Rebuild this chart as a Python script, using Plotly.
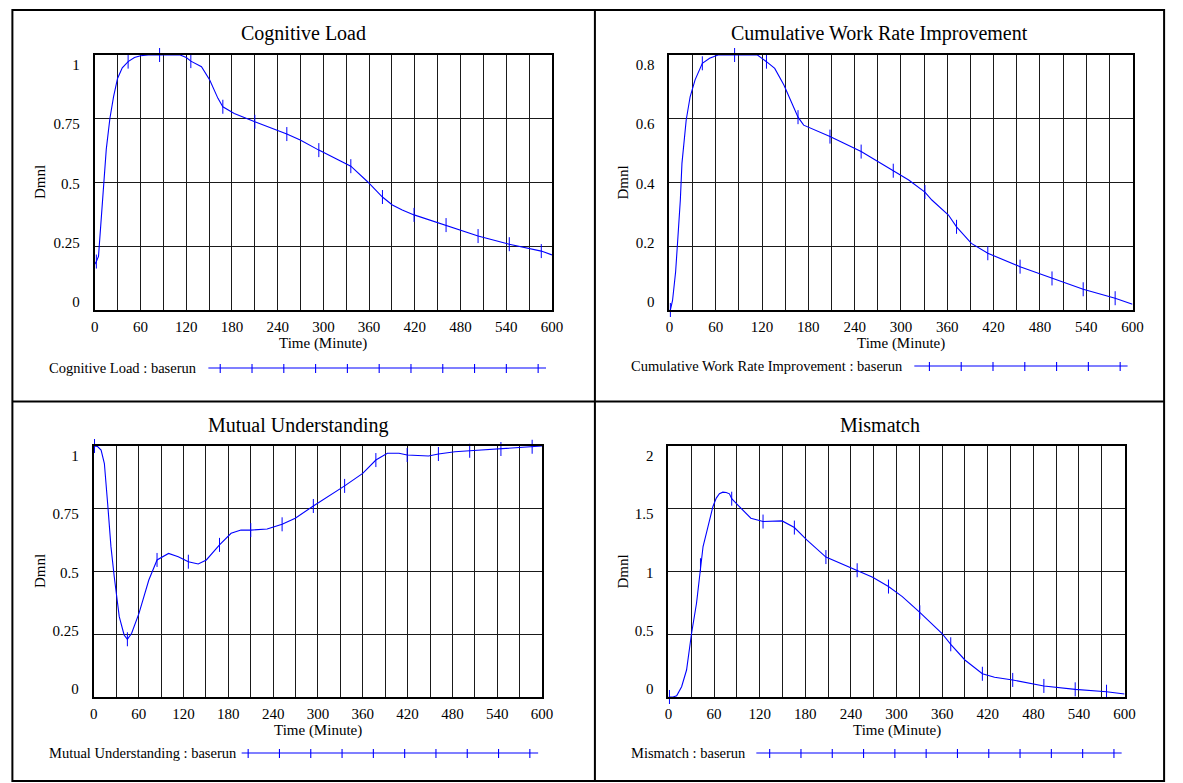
import plotly.graph_objects as go

W, H = 1183, 783
FONT = "Liberation Serif, Times New Roman, serif"
BLUE = "#0000ff"

# ---------------- data ----------------
cl_t = [0, 2, 4.8, 7, 10.4, 15, 19.8, 24.6, 29.8, 36, 43.7, 52, 60, 70, 85, 112, 120, 126,
        140, 150.8, 161.6, 168, 183, 210, 252, 269.6, 294, 336, 358, 377.5, 390.5, 403.5,
        419, 461, 503, 544, 586, 600]
cl_v = [0.18, 0.19, 0.21, 0.30, 0.46, 0.63, 0.752, 0.837, 0.908, 0.95, 0.974, 0.99, 0.997,
        1.0, 1.0, 1.0, 0.99, 0.976, 0.954, 0.902, 0.83, 0.797, 0.771, 0.738, 0.69, 0.667,
        0.627, 0.564, 0.503, 0.443, 0.412, 0.392, 0.373, 0.333, 0.29, 0.258, 0.231, 0.216]
cl_marks = [2, 43.7, 85, 126, 168, 210, 252, 294, 336, 377.5, 419, 461, 503, 544, 586]

cw_t = [0, 1.2, 4, 8, 11, 14.1, 16.2, 21.7, 26.8, 33.2, 42.6, 52, 63, 84.4, 114, 125.7,
        136.4, 148.3, 159, 166.6, 173.9, 208, 248.4, 274, 290, 310, 331, 340, 361.5, 372,
        391.2, 412.5, 454.3, 495.7, 536.1, 577.5, 600]
cw_v = [0.0, 0.0, 0.03, 0.12, 0.23, 0.345, 0.46, 0.596, 0.669, 0.722, 0.774, 0.79, 0.8,
        0.8, 0.8, 0.779, 0.758, 0.706, 0.648, 0.605, 0.58, 0.544, 0.497, 0.46, 0.437, 0.408,
        0.37, 0.345, 0.298, 0.261, 0.209, 0.178, 0.136, 0.099, 0.065, 0.037, 0.018]
cw_marks = [1.2, 42.6, 84.4, 125.7, 166.6, 208, 248.4, 290, 331, 372, 412.5, 454.3, 495.7,
            536.1, 577.5]

mu_t = [0, 0.9, 5, 9.7, 14.1, 18.5, 22.9, 27.3, 34, 40.5, 44.9, 50.6, 60.4, 73.6, 84.6, 100,
        113, 126.5, 139.7, 150.6, 168.2, 183.7, 196.9, 210, 232, 252, 269.6, 293.8, 335.7,
        359.9, 377.5, 392.9, 408.4, 419.4, 448, 461.2, 483.3, 503.1, 536, 544.9, 571.3,
        586.7, 600]
mu_v = [1.0, 1.0, 0.998, 0.984, 0.93, 0.77, 0.599, 0.479, 0.32, 0.247, 0.23, 0.254, 0.333,
        0.466, 0.546, 0.572, 0.559, 0.539, 0.53, 0.546, 0.606, 0.652, 0.665, 0.665, 0.669,
        0.688, 0.712, 0.761, 0.841, 0.891, 0.944, 0.971, 0.971, 0.964, 0.96, 0.968, 0.977,
        0.981, 0.987, 0.988, 0.993, 0.997, 1.0]
mu_marks = [0.9, 44.9, 84.6, 126.5, 168.2, 210, 252, 293.8, 335.7, 377.5, 419.4, 461.2,
            503.1, 544.9, 586.7]

mm_t = [0, 1.3, 6, 10.8, 17.3, 23.8, 30.4, 36.9, 42.1, 45.5, 52, 58.5, 62.9, 67, 71.5, 76,
        80.2, 83.2, 91, 108.4, 124.4, 149.5, 165.6, 181.9, 207.1, 225.3, 248.2, 268.6, 289.4,
        307.6, 330.6, 359.6, 371.3, 389.9, 412.9, 428.9, 452.8, 493.8, 535, 576.2, 600]
mm_v = [0.0, 0.0, 0.0, 0.01, 0.082, 0.215, 0.508, 0.747, 1.05, 1.199, 1.358, 1.518, 1.585,
        1.62, 1.632, 1.63, 1.619, 1.58, 1.531, 1.425, 1.398, 1.403, 1.35, 1.252, 1.115, 1.066,
        1.01, 0.954, 0.88, 0.8, 0.675, 0.508, 0.42, 0.295, 0.185, 0.157, 0.136, 0.088, 0.061,
        0.042, 0.024]
mm_marks = [1.3, 42.1, 83.2, 124.4, 165.6, 207.1, 248.2, 289.4, 330.6, 371.3, 412.9, 452.8,
            493.8, 535, 576.2]

x_ticks = [0, 60, 120, 180, 240, 300, 360, 420, 480, 540, 600]

panels = [
    dict(title="Cognitive Load", t=cl_t, v=cl_v, marks=cl_marks, ymax=1.0,
         ylabels=["0", "0.25", "0.5", "0.75", "1"], legend="Cognitive Load : baserun"),
    dict(title="Cumulative Work Rate Improvement", t=cw_t, v=cw_v, marks=cw_marks, ymax=0.8,
         ylabels=["0", "0.2", "0.4", "0.6", "0.8"],
         legend="Cumulative Work Rate Improvement : baserun"),
    dict(title="Mutual Understanding", t=mu_t, v=mu_v, marks=mu_marks, ymax=1.0,
         ylabels=["0", "0.25", "0.5", "0.75", "1"], legend="Mutual Understanding : baserun"),
    dict(title="Mismatch", t=mm_t, v=mm_v, marks=mm_marks, ymax=2.0,
         ylabels=["0", "0.5", "1", "1.5", "2"], legend="Mismatch : baserun"),
]

# ---------------- layout geometry (pixels) ----------------
plot_px = [(92, 555, 55, 310), (674, 1143, 55, 310), (91, 545, 446, 697), (673, 1135, 446, 697)]
title_px = [(303.5, 34), (887, 34), (298, 425.5), (887.5, 425.5)]
dmnl_x = [36, 626, 36, 626]
legend_geo = [
    # text_x, y, line_x0, line_x1, first_tick, tick_step, n_ticks
    (47, 368, 207, 549, 219, 32.2, 11),
    (636, 366, 922, 1138, 937.3, 32.2, 7),
    (47, 753, 240.7, 541, 247.3, 31.7, 10),
    (636, 753, 762, 1132, 775.5, 31.7, 12),
]


def px(x):
    return x / W


def py(y):
    return 1 - y / H


fig = go.Figure()
annotations = []
shapes = []

for i, p in enumerate(panels):
    n = i + 1
    xa = "x" if n == 1 else f"x{n}"
    ya = "y" if n == 1 else f"y{n}"
    x0, x1, y0, y1 = plot_px[i]

    fig.add_trace(go.Scatter(x=p["t"], y=p["v"], mode="lines", xaxis=xa, yaxis=ya,
                             line=dict(color=BLUE, width=1.1),
                             showlegend=False, hoverinfo="skip"))
    lookup = dict(zip(p["t"], p["v"]))
    fig.add_trace(go.Scatter(x=p["marks"], y=[lookup[m] for m in p["marks"]], mode="markers",
                             xaxis=xa, yaxis=ya, cliponaxis=False,
                             marker=dict(symbol="line-ns-open", size=10, color=BLUE,
                                         line=dict(color=BLUE, width=1.0)),
                             showlegend=False, hoverinfo="skip"))

    ymax = p["ymax"]
    grid_vals = [ymax * k / 4 for k in range(5)]
    label_pos = [ymax * (0.031 + 0.93 * k / 4) for k in range(5)]

    fig.update_layout(**{
        ("xaxis" if n == 1 else f"xaxis{n}"): dict(
            domain=[px(x0), px(x1)], anchor=ya, range=[0, 600],
            tickmode="array", tickvals=x_ticks, ticktext=[str(v) for v in x_ticks],
            showgrid=True, gridcolor="#1a1a1a", gridwidth=1,
            minor=dict(tickmode="linear", tick0=0, dtick=30, showgrid=True,
                       gridcolor="#1a1a1a", gridwidth=1),
            showline=True, linecolor="black", linewidth=2, mirror=True,
            zeroline=False, ticks="", tickfont=dict(family=FONT, size=15, color="black"),
            ticklabelstandoff=2, fixedrange=True),
        ("yaxis" if n == 1 else f"yaxis{n}"): dict(
            domain=[py(y1), py(y0)], anchor=xa, range=[0, ymax],
            tickmode="array", tickvals=label_pos, ticktext=p["ylabels"],
            showgrid=False,
            minor=dict(tickmode="array", tickvals=grid_vals, showgrid=True,
                       gridcolor="#1a1a1a", gridwidth=1),
            showline=True, linecolor="black", linewidth=2, mirror=True,
            zeroline=False, ticks="", tickfont=dict(family=FONT, size=15, color="black"),
            ticklabelstandoff=10, fixedrange=True),
    })

    tx, ty = title_px[i]
    annotations.append(dict(text=p["title"], x=px(tx), y=py(ty), xref="paper", yref="paper",
                            xanchor="center", yanchor="middle", showarrow=False,
                            font=dict(family=FONT, size=20, color="black")))
    annotations.append(dict(text="Dmnl", x=px(dmnl_x[i]), y=py((y0 + y1) / 2), xref="paper",
                            yref="paper", xanchor="center", yanchor="middle", showarrow=False,
                            textangle=-90, font=dict(family=FONT, size=15, color="black")))
    annotations.append(dict(text="Time (Minute)", x=px((x0 + x1) / 2), y=py(y1 + 33),
                            xref="paper", yref="paper", xanchor="center", yanchor="middle",
                            showarrow=False, font=dict(family=FONT, size=15, color="black")))

    lx, ly, l0, l1, ft, step, nt = legend_geo[i]
    annotations.append(dict(text=p["legend"], x=px(lx - 3), y=py(ly), xref="paper",
                            yref="paper", xanchor="left", yanchor="middle", showarrow=False,
                            font=dict(family=FONT, size=14.5, color="black")))
    shapes.append(dict(type="line", xref="paper", yref="paper", x0=px(l0), x1=px(l1),
                       y0=py(ly), y1=py(ly), line=dict(color=BLUE, width=1.2)))
    for k in range(nt):
        xx = ft + k * step
        shapes.append(dict(type="line", xref="paper", yref="paper", x0=px(xx), x1=px(xx),
                           y0=py(ly - 4), y1=py(ly + 5), line=dict(color=BLUE, width=1.1)))

# outer frame and dividers
L, R, T, B = 8.5, 1175, 10, 781
shapes.append(dict(type="rect", xref="paper", yref="paper", x0=px(L), x1=px(R), y0=py(B),
                   y1=py(T), line=dict(color="black", width=2)))
shapes.append(dict(type="line", xref="paper", yref="paper", x0=px(598.5), x1=px(598.5),
                   y0=py(B), y1=py(T), line=dict(color="black", width=2)))
shapes.append(dict(type="line", xref="paper", yref="paper", x0=px(L), x1=px(R),
                   y0=py(401.5), y1=py(401.5), line=dict(color="black", width=2)))

fig.update_layout(width=W, height=H, margin=dict(l=0, r=0, t=0, b=0),
                  paper_bgcolor="white", plot_bgcolor="white",
                  annotations=annotations, shapes=shapes, showlegend=False,
                  font=dict(family=FONT, color="black"))

fig.write_html("out.html", config={"displayModeBar": False})
